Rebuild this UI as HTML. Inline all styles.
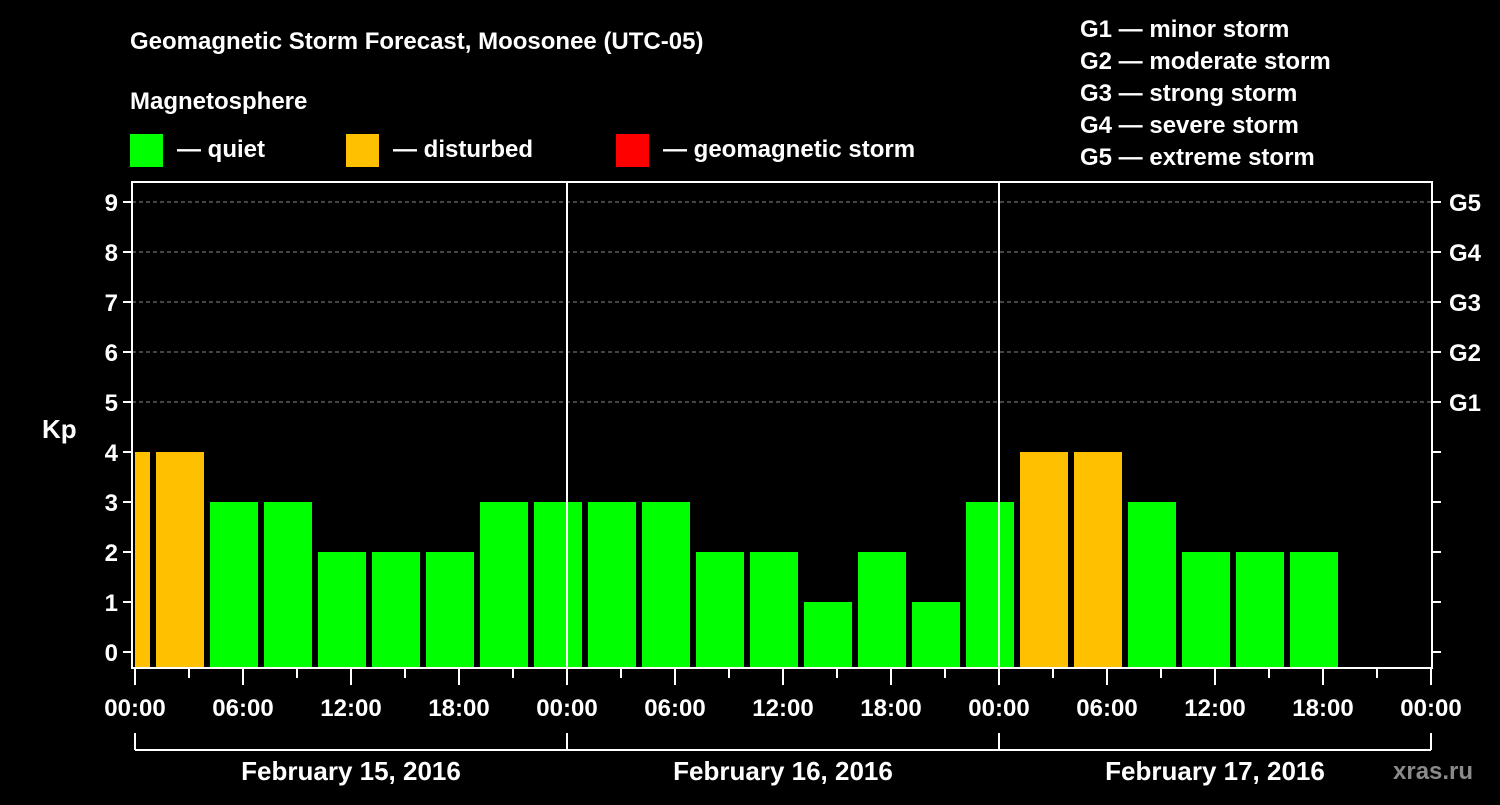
<!DOCTYPE html>
<html><head><meta charset="utf-8"><style>
body{margin:0;background:#000;width:1500px;height:800px;overflow:hidden;font-family:"Liberation Sans",Arial,sans-serif}
svg text{font-family:"Liberation Sans",Arial,sans-serif;font-weight:bold;fill:#fff}
</style></head><body>
<svg id="c" width="1500" height="800">
<text x="130" y="49" font-size="24">Geomagnetic Storm Forecast, Moosonee (UTC-05)</text>
<text x="130" y="109" font-size="24">Magnetosphere</text>
<g><rect x="130" y="134" width="33" height="33" fill="#00ff00"/><text x="177" y="157" font-size="24">— quiet</text></g>
<g><rect x="346" y="134" width="33" height="33" fill="#ffc000"/><text x="393" y="157" font-size="24">— disturbed</text></g>
<g><rect x="616" y="134" width="33" height="33" fill="#ff0000"/><text x="663" y="157" font-size="24">— geomagnetic storm</text></g>
<g font-size="24">
<text x="1080" y="37">G1 — minor storm</text>
<text x="1080" y="69">G2 — moderate storm</text>
<text x="1080" y="101">G3 — strong storm</text>
<text x="1080" y="133">G4 — severe storm</text>
<text x="1080" y="165">G5 — extreme storm</text>
</g>
<text x="42" y="438" font-size="26">Kp</text>
<text x="1393" y="779" font-size="24" fill="#888" style="fill:#8a8a8a">xras.ru</text>
<g id="plot"></g>
</svg>
<script>
const kpValues=[4,4,3,3,2,2,2,3,3,3,3,2,2,1,2,1,3,4,4,3,2,2,2];
const slotStartHours=[-2,1,4,7,10,13,16,19,22,25,28,31,34,37,40,43,46,49,52,55,58,61,64];
const yTicks=[0,1,2,3,4,5,6,7,8,9];
const gLabels=["G1","G2","G3","G4","G5"];
const gLevels=[5,6,7,8,9];
const dayLabels=["February 15, 2016","February 16, 2016","February 17, 2016"];
const xTickLabels=["00:00","06:00","12:00","18:00"];
const NS="http://www.w3.org/2000/svg";
const plot=document.getElementById('plot');
const L=132,R=1432,T=182,B=668;
const X=h=>135+18*h;
const Y=v=>652-50*v;
function mk(tag,a){const e=document.createElementNS(NS,tag);for(const k in a)e.setAttribute(k,a[k]);plot.appendChild(e);return e;}
// grid
gLevels.forEach(v=>{const e=mk('line',{x1:L,x2:R,y1:Y(v),y2:Y(v),stroke:'#888','stroke-dasharray':'4,3','stroke-width':1});

});
// bars
kpValues.forEach((v,i)=>{let x0=X(slotStartHours[i])+3,x1=x0+48;x0=Math.max(x0,L+3);
const col=v>=5?'#ff0000':(v>=4?'#ffc000':'#00ff00');
const r=mk('rect',{x:x0,y:Y(v),width:x1-x0,height:B-1-Y(v),fill:col});

});
// day separators
[1,2].forEach(d=>{const e=mk('line',{x1:X(24*d),x2:X(24*d),y1:T,y2:B,stroke:'#fff','stroke-width':2});

});
// frame
const f=mk('rect',{x:L,y:T,width:R-L,height:B-T,fill:'none',stroke:'#fff','stroke-width':2});


// y ticks
yTicks.forEach(v=>{mk('line',{x1:L-9,x2:L,y1:Y(v),y2:Y(v),stroke:'#fff','stroke-width':2});
mk('line',{x1:R,x2:R+9,y1:Y(v),y2:Y(v),stroke:'#fff','stroke-width':2});
const t=mk('text',{x:L-14,y:Y(v)+9,'font-size':24,'text-anchor':'end'});t.textContent=v;

});
gLabels.forEach((g,i)=>{const t=mk('text',{x:1449,y:Y(gLevels[i])+9,'font-size':24});t.textContent=g;

});
// x ticks
for(let h=0;h<=72;h+=3){const major=h%6===0;mk('line',{x1:X(h),x2:X(h),y1:B,y2:B+(major?17:10),stroke:'#fff','stroke-width':2});
if(major){const t=mk('text',{x:X(h),y:B+48,'font-size':24,'text-anchor':'middle'});t.textContent=xTickLabels[(h/6)%4];

}}
// day bracket
mk('line',{x1:X(0),x2:X(72),y1:750,y2:750,stroke:'#fff','stroke-width':2});
for(let d=0;d<=3;d++)mk('line',{x1:X(24*d),x2:X(24*d),y1:733,y2:750,stroke:'#fff','stroke-width':2});
dayLabels.forEach((s,d)=>{const t=mk('text',{x:X(24*d+12),y:780,'font-size':26,'text-anchor':'middle'});t.textContent=s;

});
</script>
</body></html>
